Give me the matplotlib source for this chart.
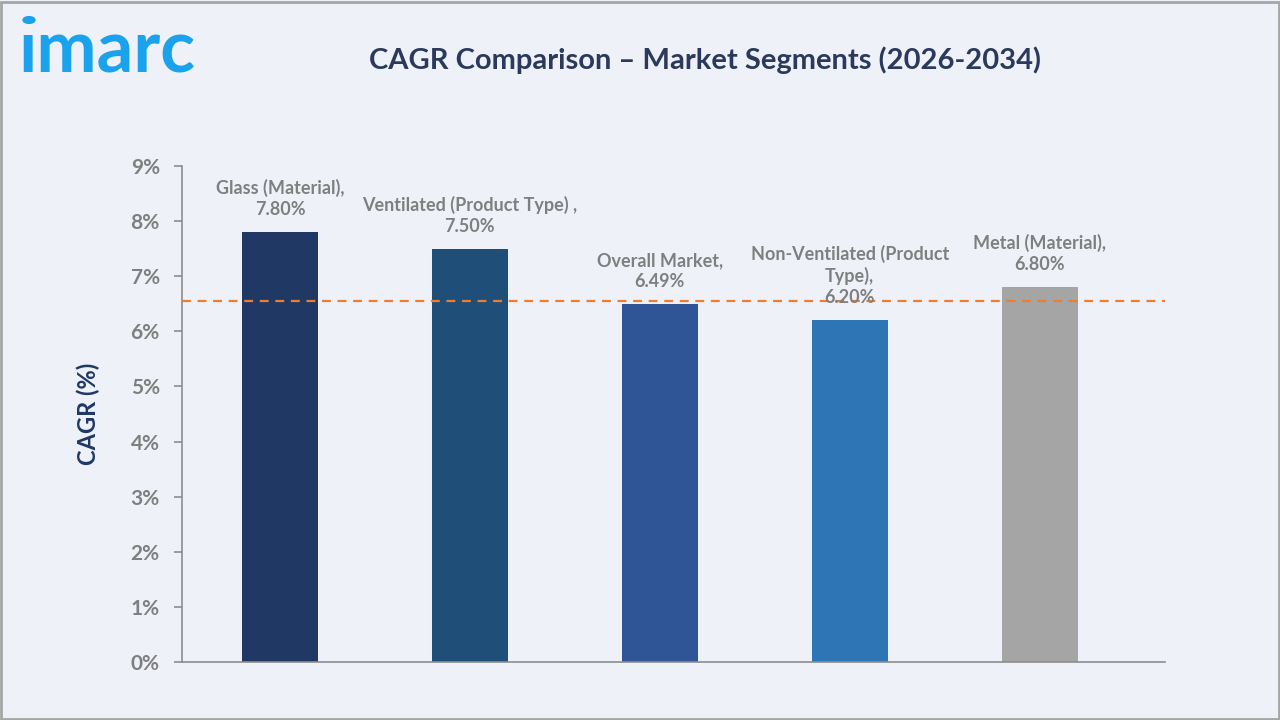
import matplotlib
matplotlib.use("Agg")
import matplotlib.pyplot as plt
from matplotlib.patches import Rectangle
from matplotlib.ticker import FuncFormatter

categories = ["Glass (Material)", "Ventilated (Product Type) ", "Overall Market",
              "Non-Ventilated (Product\nType)", "Metal (Material)"]
values = [7.80, 7.50, 6.49, 6.20, 6.80]
bar_colors = ["#1F3864", "#1F4E79", "#2F5597", "#2E75B6", "#A5A5A5"]
reference_line = 6.55
yticks = [0, 1, 2, 3, 4, 5, 6, 7, 8, 9]

plt.rcParams['font.family'] = ['Lato', 'DejaVu Sans']

W, H = 1280, 720
fig = plt.figure(figsize=(12.8, 7.2), dpi=100)
bg = "#EEF2F8"
fig.patch.set_facecolor(bg)
fig.patches.append(Rectangle((0.001, 0.001), 0.998, 0.996, transform=fig.transFigure,
                             fill=False, edgecolor="#A6A6A6", linewidth=2))

ax_l, ax_r, ax_t, ax_b = 182, 1165, 166, 662
ax = fig.add_axes([ax_l / W, 1 - ax_b / H, (ax_r - ax_l) / W, (ax_b - ax_t) / H])
ax.set_facecolor(bg)

x = list(range(len(values)))
ax.bar(x, values, width=0.4, color=bar_colors, zorder=2)
ax.axhline(reference_line, color="#ED7D31", linestyle=(0, (4, 3)), linewidth=1.6, zorder=3)

ax.set_xlim(-0.516, 4.66)
ax.set_ylim(0, 9)
ax.set_yticks(yticks)
ax.yaxis.set_major_formatter(FuncFormatter(lambda v, p: f"{v:.0f}%"))
ax.set_xticks([])
for s in ["top", "right"]:
    ax.spines[s].set_visible(False)
for s in ["left", "bottom"]:
    ax.spines[s].set_color("#8C8C8C")
    ax.spines[s].set_linewidth(1.2)
ax.tick_params(axis="y", colors="#8C8C8C", length=6, width=1.2, labelsize=15, pad=10)
for lab in ax.get_yticklabels():
    lab.set_fontweight("bold")
    lab.set_color("#7F7F7F")

for xi, v, c in zip(x, values, categories):
    ax.annotate(f"{c},\n{v:.2f}%", (xi, v), xytext=(0, 10), textcoords="offset points",
                ha="center", va="bottom", fontsize=13, fontweight="bold",
                color="#7F7F7F", linespacing=1.3, zorder=4)

ax.set_ylabel("CAGR (%)", fontsize=17, fontweight="bold", color="#1F3864", labelpad=22)

fig.text(705 / W, 1 - 60 / H, "CAGR Comparison – Market Segments (2026-2034)",
         ha="center", va="center", fontsize=21, fontweight="bold", color="#2B3A5C")
fig.text(18 / W, 1 - 52 / H, "ımarc", ha="left", va="center", fontsize=52,
         fontweight="bold", color="#1AA3EC")
fig.patches.append(plt.Circle((29 / W, 1 - 20 / H), 6 / W, transform=fig.transFigure,
                              color="#1AA3EC"))

fig.savefig("out.png", dpi=100, facecolor=bg)
